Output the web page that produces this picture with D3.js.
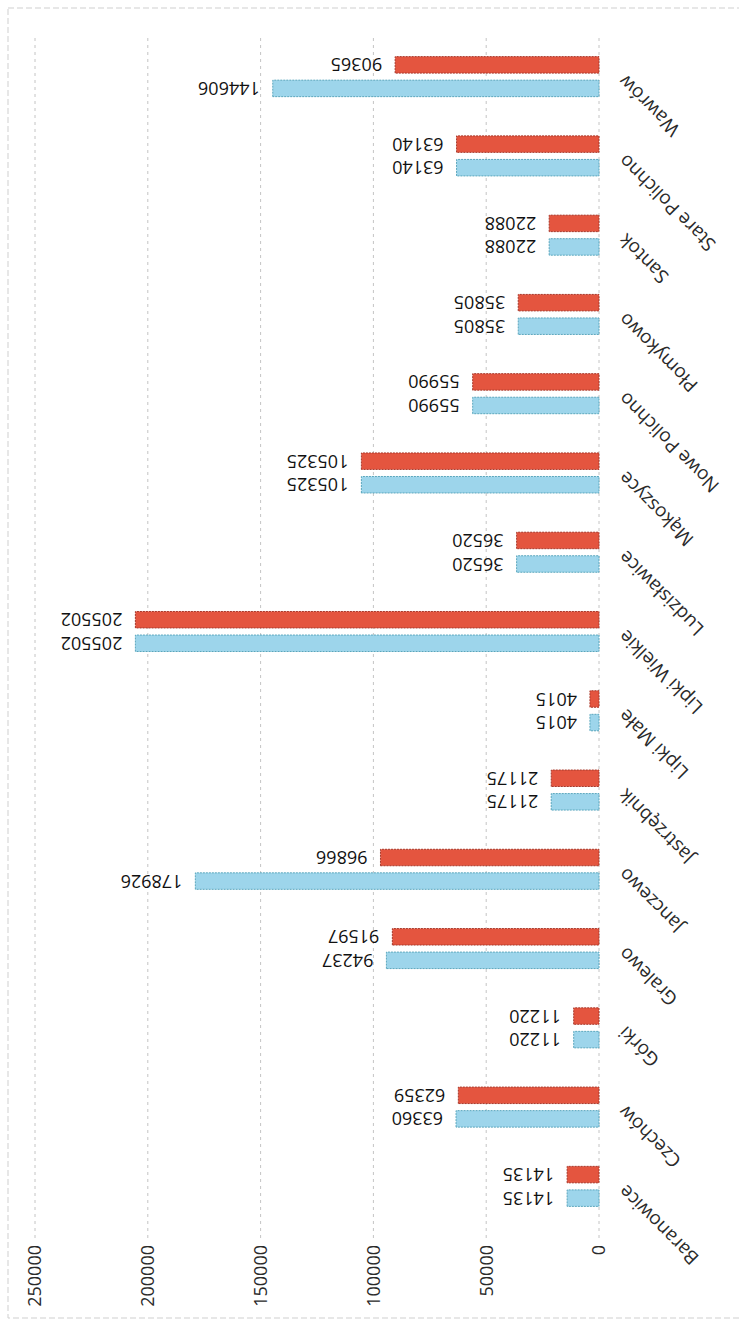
<!DOCTYPE html>
<meta charset="utf-8">
<style>
  body { margin: 0; background: #fff; }
  svg text { font-family: "Open Sans", "Liberation Sans", sans-serif; }
</style>
<body id="chart"></body>

<script src="https://cdn.jsdelivr.net/npm/d3@7"></script>
<script>
// chart data
var categories = ["Baranowice", "Czechów", "Górki", "Gralewo", "Janczewo", "Jastrzębnik",
  "Lipki Małe", "Lipki Wielkie", "Ludzisławice", "Mąkoszyce", "Nowe Polichno",
  "Płomykowo", "Santok", "Stare Polichno", "Wawrów"];
var seriesBlue = [14135, 63360, 11220, 94237, 178926, 21175, 4015, 205502, 36520,
  105325, 55990, 35805, 22088, 63140, 144606];
var seriesRed = [14135, 62359, 11220, 91597, 96866, 21175, 4015, 205502, 36520,
  105325, 55990, 35805, 22088, 63140, 90365];
var seriesNames = ["blue", "red"];
var yTicks = [0, 50000, 100000, 150000, 200000, 250000];

var W = 739, H = 1328;

// the scan is a column chart turned a quarter turn, so draw it upright
// (width = page height) and rotate the whole group
var svg = d3.select("#chart").append("svg")
    .attr("width", W)
    .attr("height", H);

// faint border of the chart area
svg.append("rect")
    .attr("x", 8).attr("y", 8)
    .attr("width", W + 20).attr("height", 1310)
    .attr("fill", "none")
    .attr("stroke", "#cfcfcf")
    .attr("stroke-dasharray", "6,3");

var g = svg.append("g")
    .attr("transform", "translate(0," + H + ") rotate(-90)");

var x = d3.scaleBand()
    .domain(categories)
    .range([102, 1291])
    .paddingInner(0.495)
    .paddingOuter(0.2475);

var xs = d3.scaleBand()
    .domain(seriesNames)
    .range([0, x.bandwidth()])
    .paddingInner(0.3);

var y = d3.scaleLinear()
    .domain([0, 250000])
    .range([599, 35]);

var colors = { blue: "#9dd5eb", red: "#e4553f" };
var strokes = { blue: "#5aa6bd", red: "#a8382a" };

// gridlines
g.append("g")
    .selectAll("line")
    .data(yTicks)
    .enter().append("line")
    .attr("x1", 90)
    .attr("x2", 1291)
    .attr("y1", function (d) { return y(d); })
    .attr("y2", function (d) { return y(d); })
    .attr("stroke", "#c4c4c4")
    .attr("stroke-width", 1)
    .attr("stroke-dasharray", "3,4");

// value axis labels
g.append("g")
    .selectAll("text")
    .data(yTicks)
    .enter().append("text")
    .attr("x", 83)
    .attr("y", function (d) { return y(d); })
    .attr("dy", "0.35em")
    .attr("text-anchor", "end")
    .attr("font-size", 18)
    .attr("fill", "#2a2a2a")
    .text(function (d) { return d; });

// bars
var rows = categories.map(function (c, i) {
  return { cat: c, vals: [{ s: "blue", v: seriesBlue[i] }, { s: "red", v: seriesRed[i] }] };
});

var grp = g.append("g")
    .selectAll("g")
    .data(rows)
    .enter().append("g")
    .attr("transform", function (d) { return "translate(" + x(d.cat) + ",0)"; });

grp.selectAll("rect")
    .data(function (d) { return d.vals; })
    .enter().append("rect")
    .attr("x", function (d) { return xs(d.s); })
    .attr("width", xs.bandwidth())
    .attr("y", function (d) { return y(d.v); })
    .attr("height", function (d) { return y(0) - y(d.v); })
    .attr("fill", function (d) { return colors[d.s]; })
    .attr("stroke", function (d) { return strokes[d.s]; })
    .attr("stroke-width", 1)
    .attr("stroke-dasharray", "2,1");

// data labels, vertical above each column
grp.selectAll("text")
    .data(function (d) { return d.vals; })
    .enter().append("text")
    .attr("transform", function (d) {
      return "translate(" + (xs(d.s) + xs.bandwidth() / 2) + "," + (y(d.v) - 13) + ") rotate(-90)";
    })
    .attr("dy", "0.36em")
    .attr("font-size", 18)
    .attr("fill", "#111")
    .text(function (d) { return d.v; });

// category labels, tilted
g.append("g")
    .selectAll("text")
    .data(categories)
    .enter().append("text")
    .attr("transform", function (d) {
      return "translate(" + (x(d) + x.bandwidth() / 2 - 2) + ",622) rotate(-45)";
    })
    .attr("dy", "0.35em")
    .attr("text-anchor", "end")
    .attr("font-size", 19)
    .attr("fill", "#2a2a2a")
    .text(function (d) { return d; });
</script>
